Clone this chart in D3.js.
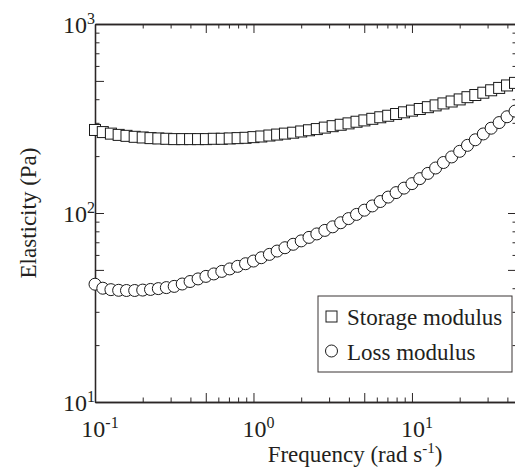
<!DOCTYPE html>
<html>
<head>
<meta charset="utf-8">
<script src="https://cdn.jsdelivr.net/npm/d3@7"></script>
<style>
  body { margin: 0; background: #fff; }
</style>
</head>
<body>
<div id="chart"></div>
<script>
// frequency sweep (rad/s), 20 points per decade
const freq = [0.1, 0.112, 0.126, 0.141, 0.158, 0.178, 0.2, 0.224, 0.251, 0.282,
  0.316, 0.355, 0.398, 0.447, 0.501, 0.562, 0.631, 0.708, 0.794, 0.891,
  1, 1.12, 1.26, 1.41, 1.58, 1.78, 2, 2.24, 2.51, 2.82,
  3.16, 3.55, 3.98, 4.47, 5.01, 5.62, 6.31, 7.08, 7.94, 8.91,
  10, 11.2, 12.6, 14.1, 15.8, 17.8, 20, 22.4, 25.1, 28.2,
  31.6, 35.5, 39.8, 44.7]

// storage modulus G' (Pa)
const storage = [275, 268, 263, 259, 256, 253, 251, 249, 248, 247,
  246, 246, 246, 246, 246, 247, 247, 248, 249, 250,
  252, 254, 257, 260, 263, 266, 270, 274, 278, 283,
  288, 293, 298, 304, 309, 315, 321, 327, 334, 341,
  348, 355, 363, 371, 380, 389, 399, 410, 421, 433,
  446, 459, 473, 488]

// loss modulus G'' (Pa)
const loss = [42, 40, 39.3, 39, 38.9, 38.9, 39.1, 39.4, 39.8, 40.3,
  40.9, 42.1, 43.4, 44.8, 46.2, 47.6, 49.1, 50.6, 52.2, 53.9,
  55.7, 58, 60.4, 62.9, 65.5, 68.3, 71.2, 74.3, 77.5, 80.9,
  84.5, 88.8, 93.4, 98.3, 103.5, 109, 115, 121.4, 128.2, 135.4,
  143, 152, 162, 173, 185, 198, 212, 228, 244, 262,
  281, 301, 323, 346]

const xDecades = [0.1, 1, 10]
const xExps = ['-1', '0', '1']
const yDecades = [10, 100, 1000]
const yExps = ['1', '2', '3']
const legendNames = ['Storage modulus', 'Loss modulus']

const width = 515
const height = 470
const plotL = 95, plotR = 517, plotT = 24, plotB = 402
const axisColor = '#2b2626'
const serif = "'Times New Roman', Times, 'Liberation Serif', 'Nimbus Roman', 'Noto Serif', FreeSerif, 'DejaVu Serif', serif"

const svg = d3
  .select('#chart')
  .append('svg')
  .attr('width', width)
  .attr('height', height)
  .style('display', 'block')
  .style('font-family', serif)

const x = d3.scaleLog().domain([0.1, 46]).range([plotL, plotR])
const y = d3.scaleLog().domain([10, 1000]).range([plotB, plotT])

// decades and the 5s get the long ticks
const isLong = (v) => {
  const m = v / Math.pow(10, Math.floor(Math.log10(v) + 1e-9))
  return Math.abs(m - 1) < 1e-6 || Math.abs(m - 5) < 1e-6
}
const xTicks = x.ticks()
const yTicks = y.ticks()

const drawAxis = (axisFn, scale, ticks, transform) => {
  const groups = [
    { vals: ticks.filter((v) => !isLong(v)), size: -4.5 },
    { vals: ticks.filter(isLong), size: -9 },
  ]
  groups.forEach((gr) => {
    const g = svg
      .append('g')
      .attr('transform', transform)
      .call(axisFn(scale).tickValues(gr.vals).tickSizeInner(gr.size).tickSizeOuter(0).tickFormat(''))
    g.selectAll('line').attr('stroke', axisColor).attr('stroke-width', 1)
    g.select('.domain').attr('stroke', axisColor).attr('stroke-width', 1.3)
  })
}

drawAxis(d3.axisBottom, x, xTicks, `translate(0,${plotB})`)
drawAxis(d3.axisTop, x, xTicks, `translate(0,${plotT})`)
drawAxis(d3.axisLeft, y, yTicks, `translate(${plotL},0)`)
drawAxis(d3.axisRight, y, yTicks, `translate(${plotR},0)`)

// tick labels with superscripts
const xl = svg
  .selectAll('.xlab')
  .data(xDecades)
  .enter()
  .append('text')
  .attr('class', 'xlab')
  .attr('x', (d) => x(d) + 5)
  .attr('y', 437)
  .attr('text-anchor', 'middle')
  .style('font-family', serif)
  .attr('fill', '#231f20')
  .attr('font-size', 24)
xl.append('tspan').text('10')
xl.append('tspan').attr('font-size', 16).attr('dy', -9).text((d, i) => xExps[i])

const yl = svg
  .selectAll('.ylab')
  .data(yDecades)
  .enter()
  .append('text')
  .attr('class', 'ylab')
  .attr('x', plotL)
  .attr('y', (d) => y(d) + 9)
  .attr('text-anchor', 'end')
  .style('font-family', serif)
  .attr('fill', '#231f20')
  .attr('font-size', 24)
yl.append('tspan').text('10')
yl.append('tspan').attr('font-size', 16).attr('dy', -9).text((d, i) => yExps[i])

// axis titles
const xt = svg
  .append('text')
  .attr('x', 355)
  .attr('y', 462)
  .attr('text-anchor', 'middle')
  .style('font-family', serif)
  .attr('fill', '#231f20')
  .attr('font-size', 23)
xt.append('tspan').text('Frequency (rad s')
xt.append('tspan').attr('font-size', 15).attr('dy', -9).text('-1')
xt.append('tspan').attr('dy', 9).text(')')

svg
  .append('text')
  .attr('transform', `translate(36,${(plotT + plotB) / 2}) rotate(-90)`)
  .attr('text-anchor', 'middle')
  .style('font-family', serif)
  .attr('fill', '#231f20')
  .attr('font-size', 23)
  .text('Elasticity (Pa)')

// markers
const sq = 11
svg
  .append('g')
  .selectAll('rect')
  .data(freq)
  .enter()
  .append('rect')
  .attr('x', (d) => x(d) - sq / 2)
  .attr('y', (d, i) => y(storage[i]) - sq / 2)
  .attr('width', sq)
  .attr('height', sq)
  .attr('fill', '#fff')
  .attr('stroke', '#1a1a1a')
  .attr('stroke-width', 1)

svg
  .append('g')
  .selectAll('circle')
  .data(freq)
  .enter()
  .append('circle')
  .attr('cx', (d) => x(d))
  .attr('cy', (d, i) => y(loss[i]))
  .attr('r', 6)
  .attr('fill', '#fff')
  .attr('stroke', '#1a1a1a')
  .attr('stroke-width', 1)

// legend
const lg = svg.append('g').attr('transform', 'translate(318,296)')
lg.append('rect')
  .attr('width', 194)
  .attr('height', 76)
  .attr('fill', '#fff')
  .attr('stroke', '#3a3535')
  .attr('stroke-width', 1)
lg.append('rect')
  .attr('x', 8)
  .attr('y', 15)
  .attr('width', 11)
  .attr('height', 11)
  .attr('fill', '#fff')
  .attr('stroke', '#1a1a1a')
lg.append('circle')
  .attr('cx', 13.5)
  .attr('cy', 55)
  .attr('r', 6)
  .attr('fill', '#fff')
  .attr('stroke', '#1a1a1a')
lg.selectAll('.ltxt')
  .data(legendNames)
  .enter()
  .append('text')
  .attr('class', 'ltxt')
  .attr('x', 29)
  .attr('y', (d, i) => 29 + i * 35)
  .style('font-family', serif)
  .attr('fill', '#231f20')
  .attr('font-size', 23)
  .text((d) => d)
</script>
</body>
</html>
